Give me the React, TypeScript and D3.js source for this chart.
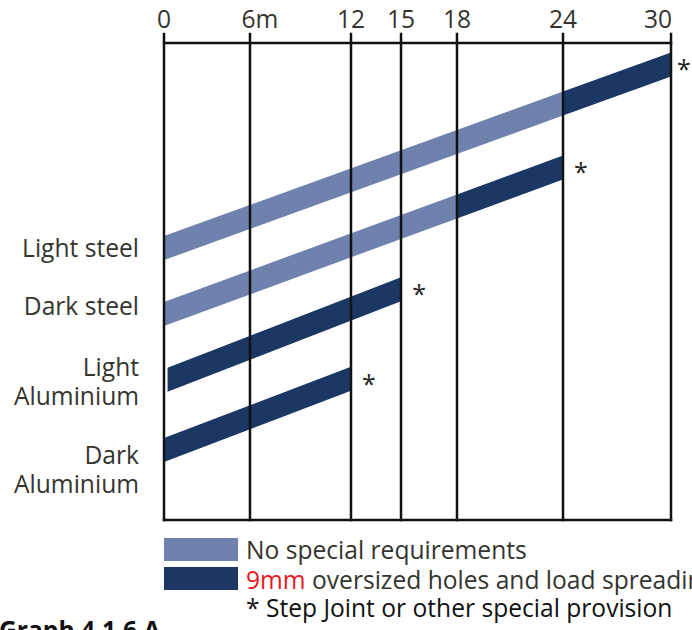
import React from "react";
import * as d3 from "d3";

// ---- data ----
const tickValues = [0, 6, 12, 15, 18, 24, 30];
const tickLabels = ["0", "6m", "12", "15", "18", "24", "30"];
const materials = ["Light steel", "Dark steel", "Light Aluminium", "Dark Aluminium"];
const labelLines = [["Light steel"], ["Dark steel"], ["Light", "Aluminium"], ["Dark", "Aluminium"]];
const spanStart = [0, 0, 0.25, 0];
const plainUntil = [24, 18, 0.25, 0]; // "no special requirements" up to this span (m)
const spanEnd = [30, 24, 15, 12];
const levelStart = [57.0, 43.2, 29.4, 14.7];
const levelEnd = [95.5, 73.9, 48.4, 29.6];
const labelLevel = [57.0, 44.7, 29.0, 10.5];
const legendLabels = ["No special requirements", "oversized holes and load spreading washers"];
const legendPrefix = ["", "9mm"];
const footnote = "* Step Joint or other special provision";
const caption = "Graph 4.1.6 A";

// ---- layout ----
const W = 692;
const H = 630;
const left = 164;
const right = 671;
const top = 43;
const bottom = 520;
// the original axis is drawn unevenly; relative tick placement along the axis
const tickFractions = [0, 0.1696, 0.3688, 0.4675, 0.5779, 0.787, 1];
const bandThickness = 24;
const light = "#6f82ad";
const dark = "#1d3764";
const textColor = "#34342f";
const font = "'Open Sans', 'Noto Sans', sans-serif";
const fs = 24.6;

export default function App() {
  const x = d3
    .scaleLinear()
    .domain(tickValues)
    .range(tickFractions.map((f) => left + f * (right - left)));
  const y = d3.scaleLinear().domain([0, 100]).range([bottom, top]);

  const seg = (xa: number, ya: number, xb: number, yb: number) => {
    const h = bandThickness / 2;
    return [
      [xa, ya - h],
      [xb, yb - h],
      [xb, yb + h],
      [xa, ya + h],
    ]
      .map((p) => p.join(","))
      .join(" ");
  };

  const bands = materials.map((m, i) => {
    const x0 = x(spanStart[i]);
    const x1 = x(spanEnd[i]);
    const y0 = y(levelStart[i]);
    const y1 = y(levelEnd[i]);
    const xs = x(Math.max(plainUntil[i], spanStart[i]));
    const ys = y0 + ((xs - x0) / (x1 - x0)) * (y1 - y0);
    return { m, x0, x1, y0, y1, xs, ys };
  });

  return (
    <svg
      width={W}
      height={H}
      style={{ position: "absolute", left: 0, top: 0, background: "#fff" }}
      fontFamily={font}
    >
      <rect width={W} height={H} fill="#fff" />
      {/* bands */}
      {bands.map((b, i) => (
        <g key={b.m}>
          {b.xs > b.x0 && <polygon points={seg(b.x0, b.y0, b.xs, b.ys)} fill={light} />}
          {b.x1 > b.xs && <polygon points={seg(b.xs, b.ys, b.x1, b.y1)} fill={dark} />}
          <text
            x={b.x1 + (i === 0 ? 13 : 18)}
            y={b.y1 + 14}
            fontSize={25}
            textAnchor="middle"
            fill="#222"
          >
            *
          </text>
        </g>
      ))}
      {/* grid / axis */}
      <g stroke="#111" strokeWidth={2.5} strokeLinecap="square">
        <line x1={left} x2={right} y1={top} y2={top} />
        <line x1={left} x2={right} y1={bottom} y2={bottom} />
        {tickValues.map((t) => (
          <line key={t} x1={x(t)} x2={x(t)} y1={34} y2={bottom} />
        ))}
      </g>
      {tickValues.map((t, i) => {
        const last = i === tickValues.length - 1;
        const label = tickLabels[i];
        const hasUnit = label.endsWith("m");
        return (
          <text
            key={t}
            x={x(t) + (last ? 1 : 0) + (hasUnit ? 10 : 0)}
            y={28}
            fontSize={fs}
            fill={textColor}
            textAnchor={last ? "end" : "middle"}
          >
            {label}
          </text>
        );
      })}
      {/* category labels */}
      {labelLines.map((lines, i) => {
        const c = y(labelLevel[i]);
        const lh = 29;
        const y0 = c - ((lines.length - 1) * lh) / 2;
        return (
          <text key={i} x={139} fontSize={fs} fill={textColor} textAnchor="end">
            {lines.map((ln, j) => (
              <tspan key={j} x={139} y={y0 + j * lh + 8.5}>
                {ln}
              </tspan>
            ))}
          </text>
        );
      })}
      {/* legend */}
      <rect x={164} y={538} width={74} height={23} fill={light} />
      <rect x={164} y={567} width={74} height={23} fill={dark} />
      <text x={246} y={559} fontSize={fs} fill={textColor}>
        {legendLabels[0]}
      </text>
      <text x={246} y={589} fontSize={fs} fill={textColor}>
        <tspan fill="#e8191e">{legendPrefix[1]}</tspan> {legendLabels[1]}
      </text>
      <text x={246} y={617} fontSize={fs} fill="#111">
        {footnote}
      </text>
      <text x={-1} y={639} fontSize={fs} fontWeight="bold" fill="#111">
        {caption}
      </text>
    </svg>
  );
}
